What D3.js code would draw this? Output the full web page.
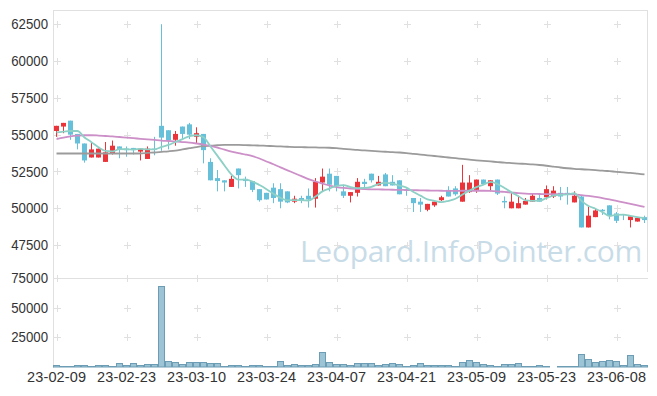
<!DOCTYPE html>
<html>
<head>
<meta charset="utf-8">
<script src="https://cdn.jsdelivr.net/npm/d3@7"></script>
<style>
  body { margin: 0; background: #fff; }
  .axis text { font-family: "Liberation Sans", Arial, sans-serif; font-size: 14.5px; fill: #333; }
</style>
</head>
<body>
<script>
//svg size
var w = 657, h = 396;

//trading days shown
var dates = ["23-02-09","23-02-10","23-02-13","23-02-14","23-02-15","23-02-16","23-02-17","23-02-20","23-02-21","23-02-22",
  "23-02-23","23-02-24","23-02-27","23-02-28","23-03-02","23-03-03","23-03-06","23-03-07","23-03-08","23-03-09",
  "23-03-10","23-03-13","23-03-14","23-03-15","23-03-16","23-03-17","23-03-20","23-03-21","23-03-22","23-03-23",
  "23-03-24","23-03-27","23-03-28","23-03-29","23-03-30","23-03-31","23-04-03","23-04-04","23-04-05","23-04-06",
  "23-04-07","23-04-10","23-04-11","23-04-12","23-04-13","23-04-14","23-04-17","23-04-18","23-04-19","23-04-20",
  "23-04-21","23-04-24","23-04-25","23-04-26","23-04-27","23-04-28","23-05-02","23-05-03","23-05-04","23-05-08",
  "23-05-09","23-05-10","23-05-11","23-05-12","23-05-15","23-05-16","23-05-17","23-05-18","23-05-19","23-05-22",
  "23-05-23","23-05-24","23-05-25","23-05-26","23-05-30","23-05-31","23-06-01","23-06-02","23-06-05","23-06-07",
  "23-06-08","23-06-09","23-06-12","23-06-13","23-06-14"];

var open = [55250,55550,55950,55050,54400,53450,53450,53150,53750,54200,
  54050,54100,53850,53350,54050,55600,55300,54650,55550,55700,
  54850,55050,53150,52050,51900,51450,52700,52000,51850,51300,
  51050,51400,51300,51150,50450,50700,50850,50650,51750,52350,
  52200,51150,50850,51050,51800,52350,51550,52300,51800,51900,
  51300,50700,50450,49900,50200,50550,51250,51350,50450,51100,
  51250,51950,51500,51950,50500,50000,50000,50250,50450,50700,
  50750,50800,51050,51050,50400,50800,48700,49400,49900,50200,
  49650,49600,49200,49100,49400];
var high = [55600,55800,55950,55050,54400,54450,54050,54500,54600,54200,
  54200,54100,54050,54200,54850,62500,55300,55250,55550,55800,
  55500,55050,53400,52600,51900,52200,52700,52150,51850,51300,
  51050,51700,51700,51150,50850,50850,51350,52050,52700,52700,
  52200,51600,51100,52050,52000,52350,52200,52400,52250,51900,
  51350,50700,50700,50300,50450,50850,51500,51500,52950,52250,
  51950,51950,51900,51950,50800,51050,50850,50700,51000,50900,
  51550,51500,51450,51450,51150,50850,50100,50000,49950,50200,
  49750,49600,49450,49350,49500];
var low = [54850,55100,54650,54000,53100,53450,53450,53150,53650,53400,
  53500,53650,53250,53350,53600,53900,54000,54250,54700,54700,
  54400,53050,51900,51150,51150,51450,51350,51450,51100,50450,
  50600,50350,50000,50350,50350,50350,50050,50050,51150,51150,
  51150,50700,50400,50800,51350,51750,51550,51500,51550,50950,
  50850,49750,49750,49800,50100,50500,50800,50850,50450,51050,
  51050,51650,51150,50900,50000,50000,50000,50250,50450,50450,
  50600,50700,50550,50250,50400,48700,48700,49400,49550,49250,
  49000,49200,48700,49100,49000];
var close = [55600,55800,55000,54400,53250,54000,54050,53800,54250,54000,
  53950,53950,54050,54050,54000,54800,54600,55050,55050,55000,
  55100,53950,51900,51850,51750,52000,52250,51850,51250,50550,
  50600,50700,50450,50400,50650,50550,50600,51800,52150,51600,
  51500,50850,51100,51800,51650,51900,51800,51500,51550,50950,
  51200,50350,50250,50300,50450,50750,50800,50950,51750,51750,
  51950,51650,51900,51000,50400,50450,50350,50500,50850,50450,
  51300,51200,50800,50950,50850,48700,49500,49850,49800,49500,
  49150,49550,49450,49350,49200];
var volume = [1400,600,600,1400,1400,600,1400,1400,600,3100,
  1400,3100,1400,2200,2200,68000,5000,4200,2200,3900,
  3900,3900,3100,3100,600,1400,1400,600,1400,1400,
  600,600,4800,1400,2200,1400,1400,2200,12400,3900,
  2200,2200,1400,3100,3100,3100,1400,2200,3100,2200,
  600,1400,3100,1400,1400,1400,1400,600,3900,5600,
  4200,2200,1400,600,2200,2200,3100,600,600,1400,
  600,100,600,600,600,10700,6500,4200,4800,5600,
  5000,1400,9800,2200,1400];

//moving averages
var ma5 = [55150,55200,55250,55250,54810,54490,54140,53900,53870,54020,
  54010,53990,54040,54000,54000,54170,54300,54500,54700,54900,
  54960,54830,54200,53560,52910,52290,51950,51940,51820,51580,
  51300,50990,50710,50540,50560,50550,50530,50800,51150,51340,
  51530,51580,51440,51370,51380,51460,51650,51730,51680,51540,
  51400,51110,50860,50610,50510,50420,50510,50650,50940,51200,
  51440,51610,51800,51650,51380,51080,50820,50540,50510,50520,
  50690,50860,50920,50940,51020,50500,50160,49970,49740,49470,
  49560,49570,49490,49400,49340];
var ma20 = [54700,54800,54880,54930,54960,54960,54940,54910,54880,54840,
  54800,54760,54720,54680,54640,54600,54570,54540,54500,54460,
  54400,54330,54240,54120,53980,53850,53740,53650,53540,53380,
  53180,52990,52780,52580,52380,52180,51980,51820,51680,51540,
  51440,51380,51340,51320,51300,51290,51280,51270,51260,51250,
  51240,51230,51220,51210,51200,51190,51180,51180,51190,51190,
  51190,51190,51180,51150,51110,51070,51030,51000,50980,50970,
  50960,50960,50960,50960,50950,50900,50840,50770,50690,50600,
  50500,50400,50300,50200,50100];
var ma60 = [53720,53720,53720,53720,53720,53720,53720,53720,53720,53720,
  53720,53720,53720,53760,53790,53830,53870,53920,54000,54080,
  54160,54220,54250,54280,54300,54300,54300,54290,54275,54260,
  54240,54220,54200,54180,54160,54150,54140,54130,54120,54110,
  54080,54040,54000,53960,53930,53900,53870,53840,53810,53790,
  53750,53700,53650,53600,53550,53500,53450,53400,53350,53300,
  53260,53220,53180,53140,53100,53070,53040,53010,52980,52940,
  52890,52830,52770,52720,52680,52650,52620,52590,52560,52520,
  52480,52440,52400,52350,52300];

//tick labels
var tickDates = ["23-02-09","23-02-23","23-03-10","23-03-24","23-04-07","23-04-21","23-05-09","23-05-23","23-06-08"];
var priceTicks = [47500,50000,52500,55000,57500,60000,62500];
var volTicks = [25000,50000,75000];

var upColor = "#ea3439", downColor = "#67c0da";
var gridColor = "#e0e0e0";

window.onload = function(){
    var svg = d3.select("body").append("svg")
        .attr("width", w)
        .attr("height", h);

    var x = d3.scaleBand() //one band per trading day
        .domain(dates)
        .range([53, 648]);
    var cx = function(i){ return x(dates[i]) + x.bandwidth()/2; };

    var y = d3.scaleLinear() //price pane
        .domain([45810, 63465])
        .range([270, 10]);
    var yv = d3.scaleLinear() //volume pane
        .domain([0, 75000])
        .range([367, 278]);

    //watermark sits under everything
    svg.append("text")
        .attr("x", 300)
        .attr("y", 262)
        .style("font-family", "'Open Sans', 'Noto Sans', sans-serif")
        .style("font-size", "30px")
        .style("letter-spacing", "-0.3px")
        .style("fill", "#c8dce8")
        .text("Leopard.InfoPointer.com");

    //frame lines
    var frame = svg.append("g").attr("stroke", gridColor).attr("stroke-width", 1);
    frame.append("line").attr("x1", 53).attr("x2", 648).attr("y1", 10.5).attr("y2", 10.5);
    frame.append("line").attr("x1", 647.5).attr("x2", 647.5).attr("y1", 10).attr("y2", 272);
    frame.append("line").attr("x1", 53).attr("x2", 648).attr("y1", Math.round(yv(75000)) + 0.5).attr("y2", Math.round(yv(75000)) + 0.5);
    frame.append("line").attr("x1", 53.5).attr("x2", 53.5).attr("y1", 10).attr("y2", 368);

    //little plus marks at every grid crossing
    var crosses = [];
    tickDates.forEach(function(d){
        priceTicks.forEach(function(p){ crosses.push([x(d) + x.bandwidth()/2, y(p)]); });
        volTicks.forEach(function(v){ crosses.push([x(d) + x.bandwidth()/2, yv(v)]); });
    });
    var plus = svg.append("g").attr("stroke", gridColor).attr("stroke-width", 1);
    plus.selectAll(".ph").data(crosses).enter().append("line")
        .attr("x1", function(d){ return Math.round(d[0]) - 3; })
        .attr("x2", function(d){ return Math.round(d[0]) + 4; })
        .attr("y1", function(d){ return Math.round(d[1]) + 0.5; })
        .attr("y2", function(d){ return Math.round(d[1]) + 0.5; });
    plus.selectAll(".pv").data(crosses).enter().append("line")
        .attr("x1", function(d){ return Math.round(d[0]) + 0.5; })
        .attr("x2", function(d){ return Math.round(d[0]) + 0.5; })
        .attr("y1", function(d){ return Math.round(d[1]) - 3; })
        .attr("y2", function(d){ return Math.round(d[1]) + 4; });

    //volume bars
    svg.append("g").selectAll("rect").data(volume).enter().append("rect")
        .attr("x", function(d, i){ return x(dates[i]) + 0.5; })
        .attr("width", x.bandwidth() - 1)
        .attr("y", function(d){ return Math.round(yv(d)) + 0.5; })
        .attr("height", function(d){ return Math.max(0, yv(0) - Math.round(yv(d)) - 0.5); })
        .style("fill", "#9dc4d4")
        .style("stroke", "#6c9db5")
        .style("stroke-width", 1);

    //candles
    var candles = svg.append("g").selectAll("g").data(dates).enter().append("g")
        .style("color", function(d, i){ return close[i] > open[i] ? upColor : downColor; });
    candles.append("line") //wick
        .attr("x1", function(d, i){ return Math.round(cx(i) - 0.5) + 0.5; })
        .attr("x2", function(d, i){ return Math.round(cx(i) - 0.5) + 0.5; })
        .attr("y1", function(d, i){ return y(high[i]); })
        .attr("y2", function(d, i){ return y(low[i]); })
        .attr("stroke", "currentColor");
    candles.append("rect") //body
        .attr("x", function(d, i){ return Math.round(cx(i) - 0.5) - 2; })
        .attr("width", 5)
        .attr("y", function(d, i){ return y(Math.max(open[i], close[i])); })
        .attr("height", function(d, i){ return Math.max(1, Math.abs(y(open[i]) - y(close[i]))); })
        .attr("fill", "currentColor");

    //moving average lines on top
    var line = d3.line()
        .x(function(d, i){ return cx(i); })
        .y(function(d){ return y(d); })
        .curve(d3.curveMonotoneX);
    [[ma60, "#9b9b9b"], [ma20, "#cc8fc8"], [ma5, "#8dd0c6"]].forEach(function(m){
        svg.append("path")
            .datum(m[0])
            .attr("d", line)
            .attr("fill", "none")
            .attr("stroke", m[1])
            .attr("stroke-width", 1.8);
    });

    //axes, labels only
    var fmt = d3.format("d");
    svg.append("g").attr("class", "axis")
        .attr("transform", "translate(48,0)")
        .call(d3.axisLeft(y).tickValues(priceTicks).tickSize(0).tickPadding(0).tickFormat(fmt));
    svg.append("g").attr("class", "axis")
        .attr("transform", "translate(48,0)")
        .call(d3.axisLeft(yv).tickValues(volTicks).tickSize(0).tickPadding(0).tickFormat(fmt));
    var xAxis = svg.append("g").attr("class", "axis")
        .attr("transform", "translate(0,370)")
        .call(d3.axisBottom(x).tickValues(tickDates).tickSize(0).tickPadding(0));
    svg.selectAll(".axis .domain").remove();
    //the original font is narrow, squeeze the digits a bit
    svg.selectAll(".axis text")
        .attr("textLength", function(){ return this.textContent.length * 7.35; })
        .attr("lengthAdjust", "spacingAndGlyphs");
    xAxis.selectAll("text")
        .attr("dy", "0.85em")
        .attr("textLength", 59)
        .attr("lengthAdjust", "spacing");
};
</script>
</body>
</html>
